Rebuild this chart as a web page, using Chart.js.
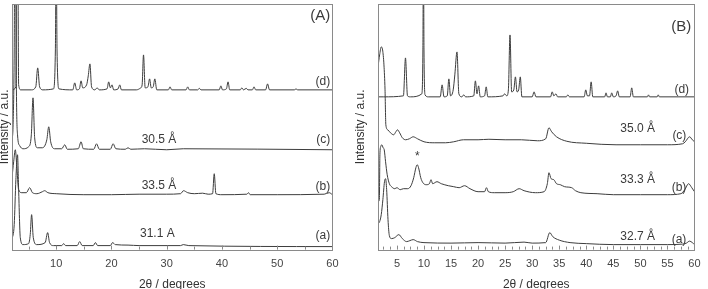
<!DOCTYPE html>
<html>
<head>
<meta charset="utf-8">
<script src="https://cdn.jsdelivr.net/npm/chart.js@4.4.0/dist/chart.umd.min.js"></script>
<style>
  html, body { margin: 0; padding: 0; background: #fff; overflow: hidden; }
  body { width: 708px; height: 289px; position: relative; }
  canvas { position: absolute; top: 0; }
  #chartA { left: -3px; }
  #chartB { left: 353px; }
</style>
</head>
<body>
<canvas id="chartA" width="349" height="292"></canvas>
<canvas id="chartB" width="355" height="292"></canvas>
<script>
// ---- panel A : 2theta / intensity pairs (stacked, offset already included) ----
const patA_d = [[2.0,160],[2.7,163],[2.85,300],[3.05,300],[3.2,165],[3.6,160],[5.5,160],[6.3,163],[6.65,182],[7.0,163],[7.6,160],
  [9.5,161],[9.85,200],[10.0,300],[10.15,200],[10.5,161],[13.0,160],[13.35,167],[13.7,160],[14.2,161],[14.5,169],[14.8,162],
  [15.5,165],[15.8,174],[16.1,186],[16.4,163],[17.0,160],[17.4,162],[17.8,160],[19.2,161],[19.5,168],[19.8,162],[20.1,165],
  [20.4,160],[21.2,161],[21.5,165],[21.8,160],[24.5,160],[25.3,162],[25.55,165],[25.8,195],[26.1,162],[26.6,163],[26.9,171],
  [27.2,162],[27.55,163],[27.85,171],[28.2,160],[30.3,160],[30.6,163],[30.9,160],[33.5,160],[33.8,163],[34.1,160],[35.6,160],
  [35.9,161.5],[36.2,160],[39.5,160],[39.8,164],[40.1,160],[40.8,161],[41.1,168],[41.4,160],[43.3,160],[43.6,162],[43.9,160],
  [44.4,161.5],[44.7,160],[45.5,160],[45.8,163],[46.1,160],[47.9,160],[48.25,166],[48.6,160],[53.1,160],[53.4,161],[53.7,160],[60,160]];
const patA_c = [[2.0,110],[2.2,125],[2.4,200],[2.5,300],[2.65,300],[2.8,160],[3.0,115],[3.4,104],[4.0,101],[5.0,103],[5.5,115],
  [5.8,152],[6.1,112],[6.6,102],[7.5,102],[8.3,110],[8.65,123],[9.0,108],[9.7,101],[11.0,101],[11.55,105],[12.0,100.5],[14.0,101],
  [14.5,108],[14.9,101],[16.8,100.5],[17.3,106],[17.8,100.5],[19.8,100.5],[20.3,106],[20.8,101],[22.5,100.5],[23.0,102],[23.5,100.5],
  [26,101],[30,100],[33,101],[60,100]];
const patA_b = [[2.0,72],[2.3,88],[2.6,100],[2.85,85],[3.2,60],[3.8,57],[4.6,57],[5.2,62],[5.7,57],[6.5,56],[7.5,58],[7.9,59],
  [8.5,57],[10,56],[15,55],[20,55],[25,55.5],[30,55.5],[32.5,56],[33.05,59],[33.8,57],[35,56],[36.5,56.5],[37.5,55.5],[38.3,56],
  [38.6,76],[38.9,56],[40,55],[44.5,55.5],[44.8,57],[45.1,55],[50,55],[58.5,55.5],[59.4,57],[60,55]];
const patA_a = [[2.0,10],[2.4,25],[2.7,70],[3.0,95],[3.2,60],[3.5,12],[4.0,5],[5.0,6],[5.3,15],[5.55,35],[5.85,12],[6.5,5],
  [8.0,7],[8.45,17],[8.8,7],[9.5,4],[11.0,4],[11.35,6],[11.7,4],[13.8,4],[14.25,8],[14.7,4],[16.7,4],[17.1,7],[17.5,4],
  [19.8,4],[20.2,7],[20.7,5],[23,4.5],[25,4],[32.5,4],[33,5],[34,4],[60,3]];

// ---- panel B ----
const patB_d = [[1.5,153],[2.5,153],[6.2,154],[6.58,192],[6.95,154],[7.5,153],[9.6,156],[9.8,200],[9.9,300],[10.0,200],[10.2,155],
  [10.8,153],[13.0,153],[13.35,165],[13.7,153],[14.3,154],[14.6,171],[14.9,154],[15.4,160],[15.7,175],[16.1,198],[16.45,156],
  [17.0,153],[17.35,155],[17.7,153],[19.2,154],[19.5,169],[19.8,156],[20.1,164],[20.4,153],[21.2,154],[21.5,163],[21.8,153],
  [24.6,154],[24.9,156],[25.3,154],[25.6,160],[25.9,215],[26.2,158],[26.6,160],[26.9,173],[27.2,158],[27.5,160],[27.8,173],
  [28.1,153],[30.0,153],[30.35,158],[30.7,153],[33.4,153],[33.7,158],[34.0,154],[34.4,156],[34.7,153],[36.3,153],[36.6,155],
  [36.9,153],[39.6,153],[39.9,160],[40.2,154],[40.6,154],[40.9,168],[41.2,153],[43.4,153],[43.65,157],[43.9,153],[44.45,153],
  [44.7,157],[45.0,153],[45.5,154],[45.8,159],[46.1,153],[48.1,153],[48.4,162],[48.7,153],[51.3,153],[51.5,155],[51.7,153],
  [53.1,153],[53.3,155],[53.5,153],[60,153]];
const patB_c = [[1.5,183],[1.8,195],[2.1,203],[2.35,200],[2.6,185],[2.8,160],[2.95,125],[3.3,120],[3.8,117],[4.4,115],[4.8,118],
  [5.1,120],[5.5,117],[6.0,112],[6.6,110],[7.3,111],[8.0,113],[8.8,111],[10,108],[12,107],[14,107],[15.5,108],[17.3,110],
  [20,110],[22,110.5],[25,110],[28,110],[31,109],[32.5,111],[33.1,122],[33.6,118],[34.5,113],[36.4,108.5],[40,106.5],
  [45.5,105],[50,105],[55,105],[57.8,106],[58.3,108],[59.1,113],[59.6,110],[60,108]];
const patB_b = [[1.5,48],[1.75,50],[1.85,95],[2.0,103],[2.2,105],[2.45,102],[2.65,100],[2.9,88],[3.2,75],[3.6,66],[4.0,63],
  [4.6,61],[5.0,62],[5.6,60],[6.2,61],[7.0,61],[7.6,64],[8.1,72],[8.5,82],[8.75,85],[9.0,82],[9.4,72],[9.8,67],[10.4,65],
  [11.0,66],[11.3,70],[11.6,66],[12.4,68],[13.2,66],[14.5,64],[15.5,63],[16.5,62],[17.5,64],[18.5,61],[20,58],[21.2,58],
  [21.55,62],[21.9,58],[23,57],[25,57],[26.5,58],[27.6,61],[28.5,59],[30.6,57],[32.2,58],[32.8,66],[33.1,77],[33.5,71],
  [34.0,70],[34.5,66],[35.2,65],[36,63],[37.3,62],[38,59],[39,57],[42,56],[45,55],[50,55],[55,55],[57.5,56],[58.2,60],
  [58.9,66],[59.5,62],[60,58]];
const patB_a = [[1.5,26],[1.8,28],[2.1,35],[2.4,50],[2.7,68],[2.9,71],[3.1,60],[3.35,30],[3.6,14],[4.0,11],[4.6,12],[5.35,15],
  [6.0,11],[6.8,8],[7.4,9],[8.0,10],[8.8,8],[10,7],[15,6.5],[20,7],[25,6.5],[28.5,7.5],[30,6.5],[32.5,7],[33.25,17],[33.8,13],
  [35,9.5],[37,7],[40,6],[45,5],[50,5],[55,5],[57.8,5.5],[58.5,6.5],[59.1,8.5],[59.6,7],[60,5]];

// tick labels
const ticksA = [10, 20, 30, 40, 50, 60];
const minorA = [5, 15, 25, 35, 45, 55];
const ticksB = [5, 10, 15, 20, 25, 30, 35, 40, 45, 50, 55, 60];

// text inside the plots (data coordinates)
const notesA = [
  { text: "(A)", x: 59.6, y: 234, align: "right", size: 15 },
  { text: "(d)", x: 59.6, y: 168, align: "right" },
  { text: "(c)", x: 59.6, y: 110, align: "right" },
  { text: "(b)", x: 59.6, y: 63, align: "right" },
  { text: "(a)", x: 59.6, y: 14, align: "right" },
  { text: "30.5 Å", x: 28.6, y: 110 },
  { text: "33.5 Å", x: 28.6, y: 64 },
  { text: "31.1 A", x: 28.3, y: 16 }
];
const notesB = [
  { text: "(B)", x: 59.4, y: 223, align: "right", size: 15 },
  { text: "(d)", x: 59.0, y: 160, align: "right" },
  { text: "(c)", x: 58.5, y: 114, align: "right" },
  { text: "(b)", x: 58.5, y: 62, align: "right" },
  { text: "(a)", x: 58.5, y: 10, align: "right" },
  { text: "35.0 Å", x: 49.5, y: 121 },
  { text: "33.3 Å", x: 49.5, y: 70 },
  { text: "32.7 Å", x: 49.5, y: 13 },
  { text: "*", x: 8.75, y: 93 }
];

const FONT = "'Liberation Sans', Arial, sans-serif";
const LINE = "#3d3d3d";

// frame, inward ticks, labels
const decor = {
  id: "decor",
  afterDatasetsDraw(chart, args, opts) {
    const { ctx, chartArea: a, scales: { x, y } } = chart;
    ctx.save();
    ctx.strokeStyle = "#8a8a8a";
    ctx.lineWidth = 1;
    ctx.strokeRect(Math.round(a.left) + 0.5, Math.round(a.top) + 0.5,
      Math.round(a.right - a.left), Math.round(a.bottom - a.top));
    ctx.beginPath();
    (opts.major || []).forEach(v => {
      const px = Math.round(x.getPixelForValue(v)) + 0.5;
      ctx.moveTo(px, a.bottom); ctx.lineTo(px, a.bottom - 4);
    });
    (opts.minor || []).forEach(v => {
      const px = Math.round(x.getPixelForValue(v)) + 0.5;
      ctx.moveTo(px, a.bottom); ctx.lineTo(px, a.bottom - 3);
    });
    ctx.stroke();

    ctx.fillStyle = "#3a3a3a";
    ctx.textBaseline = "middle";
    (opts.notes || []).forEach(n => {
      ctx.font = (n.size || 12) + "px " + FONT;
      ctx.textAlign = n.align || "center";
      ctx.fillText(n.text, x.getPixelForValue(n.x), y.getPixelForValue(n.y));
    });
    ctx.restore();
  }
};

function makeSet(pairs) {
  return {
    data: pairs.map(p => ({ x: p[0], y: p[1] })),
    borderColor: LINE,
    borderWidth: 1,
    pointRadius: 0,
    fill: false,
    cubicInterpolationMode: "monotone"
  };
}

function makeChart(id, sets, xmin, ticks, minor, notes, yPad, padRight) {
  return new Chart(document.getElementById(id), {
    type: "line",
    data: { datasets: sets.map(makeSet) },
    options: {
      responsive: false,
      animation: false,
      layout: { padding: { top: 4, right: padRight, bottom: 0, left: 0 } },
      plugins: {
        legend: { display: false },
        tooltip: { enabled: false },
        decor: { major: ticks, minor: minor, notes: notes }
      },
      scales: {
        x: {
          type: "linear",
          min: xmin,
          max: 60,
          afterBuildTicks: s => { s.ticks = ticks.map(v => ({ value: v })); },
          grid: { display: false, drawTicks: false },
          border: { display: false },
          ticks: { color: "#444", padding: 7.4, font: { size: 11, family: FONT } },
          title: {
            display: true, text: "2θ / degrees", color: "#333",
            padding: { top: 0, bottom: 0 }, font: { size: 12, family: FONT }
          }
        },
        y: {
          min: 0,
          max: 246,
          grid: { display: false, drawTicks: false },
          border: { display: false },
          ticks: { display: false },
          title: {
            display: true, text: "Intensity / a.u.", color: "#333",
            padding: { top: 0, bottom: yPad }, font: { size: 12, family: FONT }
          }
        }
      }
    },
    plugins: [decor]
  });
}

const minorB = [];
for (let v = 2.5; v < 60; v += 1.25) {
  if (v % 5 !== 0) minorB.push(v);
}

makeChart("chartA", [patA_d, patA_c, patA_b, patA_a], 2, ticksA, minorA, notesA, 0.6, 12);
makeChart("chartB", [patB_d, patB_c, patB_b, patB_a], 1.5, ticksB, minorB, notesB, 10.6, 7);
</script>
</body>
</html>
